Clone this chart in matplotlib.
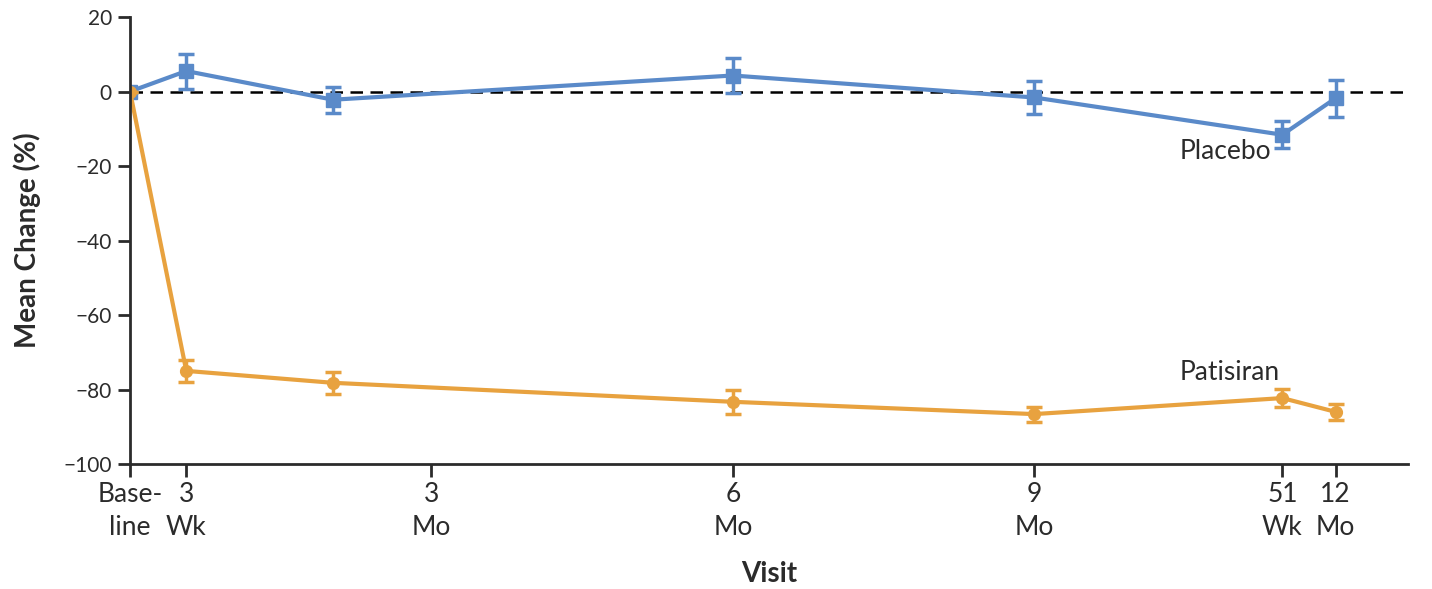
import matplotlib.pyplot as plt
import numpy as np

# ── Data (x in months from baseline) ─────────────────────────────────────────
visit_x = [0, 0.56, 2.02, 6, 9, 11.47, 12]

placebo_mean = [0, 5.5, -2.2, 4.3, -1.6, -11.6, -1.8]
placebo_err = [0, 4.7, 3.5, 4.6, 4.5, 3.6, 5.0]

patisiran_mean = [0, -75.0, -78.2, -83.3, -86.6, -82.3, -86.0]
patisiran_err = [0, 2.9, 2.9, 3.2, 2.0, 2.4, 2.2]

tick_pos = [0, 0.56, 3, 6, 9, 11.47, 12]
tick_labels = ["Base-\nline", "3\nWk", "3\nMo", "6\nMo", "9\nMo", "51\nWk", "12\nMo"]
y_ticks = [20, 0, -20, -40, -60, -80, -100]

BLUE = "#5A8AC9"
ORANGE = "#E8A23F"
INK = "#2b2b2b"

plt.rcParams["font.family"] = ["Lato", "DejaVu Sans"]

fig = plt.figure(figsize=(14.32, 5.89), dpi=100)
ax = fig.add_axes([0.0908, 0.2122, 0.8924, 0.7589])

ax.axhline(0, color="black", lw=1.8, ls=(0, (5, 3)), zorder=1)

ax.errorbar(visit_x, placebo_mean, yerr=placebo_err, color=BLUE, lw=3,
            marker="s", ms=10, capsize=6, capthick=2.5, elinewidth=2.5, zorder=3)
ax.errorbar(visit_x, patisiran_mean, yerr=patisiran_err, color=ORANGE, lw=3,
            marker="o", ms=8.5, capsize=6, capthick=2.5, elinewidth=2.5, zorder=4)

ax.text(10.45, -16, "Placebo", fontsize=19, color=INK, ha="left", va="center")
ax.text(10.45, -75.5, "Patisiran", fontsize=19, color=INK, ha="left", va="center")

ax.set_xlim(0, 12.72)
ax.set_ylim(-100, 20)
ax.set_xticks(tick_pos)
ax.set_xticklabels(tick_labels, fontsize=19, color=INK, linespacing=1.4)
ax.set_yticks(y_ticks)
ax.set_yticklabels([f"{v}".replace("-", "\u2212") for v in y_ticks],
                   fontsize=15, color=INK)

for side in ["top", "right"]:
    ax.spines[side].set_visible(False)
for side in ["left", "bottom"]:
    ax.spines[side].set_linewidth(2)
    ax.spines[side].set_color(INK)
    ax.spines[side].set_zorder(5)
ax.tick_params(direction="out", length=9, width=2, color=INK, pad=4)

ax.set_xlabel("Visit", fontsize=20, fontweight="bold", color=INK, labelpad=15)
ax.set_ylabel("Mean Change (%)", fontsize=20, fontweight="bold", color=INK, labelpad=16)

fig.savefig("out.png", dpi=100)
